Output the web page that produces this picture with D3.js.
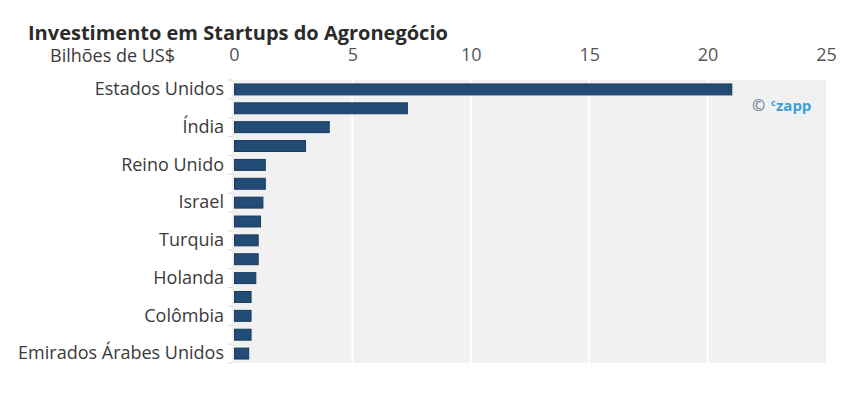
<!DOCTYPE html>
<html>
<head>
<meta charset="utf-8">
<script src="https://cdn.jsdelivr.net/npm/d3@7"></script>
<style>
  body { margin: 0; background: #fff; }
  svg { display: block; font-family: "Open Sans", sans-serif; }
</style>
</head>
<body>
<svg id="chart" width="862" height="394"></svg>
<script>
const categories = ["Estados Unidos", "China", "Índia", "Alemanha", "Reino Unido", "França", "Israel", "Canadá", "Turquia", "Singapura", "Holanda", "Suíça", "Colômbia", "Brasil", "Emirados Árabes Unidos"];
const values = [21.0, 7.3, 4.0, 3.0, 1.3, 1.3, 1.2, 1.1, 1.0, 1.0, 0.9, 0.7, 0.7, 0.7, 0.6];
const xTicks = [0, 5, 10, 15, 20, 25];
const title = "Investimento em Startups do Agronegócio";
const subtitle = "Bilhões de US$";

const svg = d3.select("#chart");
const m = { left: 234, right: 826, top: 80, bottom: 363 };

const x = d3.scaleLinear().domain([0, 25]).range([m.left, m.right]);
const y = d3.scaleBand().domain(categories).range([m.top, m.bottom]).paddingInner(0.42).paddingOuter(0.21);

// plot background
svg.append("rect")
  .attr("x", m.left).attr("y", m.top)
  .attr("width", m.right - m.left).attr("height", m.bottom - m.top)
  .attr("fill", "#f1f1f1");

// gridlines
svg.append("g").selectAll("line")
  .data(xTicks.filter(d => d > 0 && d < 25))
  .join("line")
  .attr("x1", d => x(d)).attr("x2", d => x(d))
  .attr("y1", m.top).attr("y2", m.bottom)
  .attr("stroke", "#ffffff").attr("stroke-width", 2);

// top axis
const xAxis = svg.append("g")
  .attr("transform", `translate(0,${m.top - 19})`)
  .call(d3.axisTop(x).tickValues(xTicks).tickSize(0).tickPadding(0));
xAxis.select(".domain").remove();
xAxis.selectAll("text")
  .attr("font-family", "Open Sans, sans-serif")
  .attr("font-size", 18).attr("fill", "#555");

// left band-edge ticks
const edges = d3.range(categories.length + 1).map(i => m.top + i * (m.bottom - m.top) / categories.length);
svg.append("g").selectAll("line")
  .data(edges)
  .join("line")
  .attr("x1", m.left - 6).attr("x2", m.left - 1)
  .attr("y1", d => d).attr("y2", d => d)
  .attr("stroke", "#d6d6d6").attr("stroke-width", 1);
svg.append("line")
  .attr("x1", m.left - 1).attr("x2", m.left - 1)
  .attr("y1", m.top).attr("y2", m.bottom)
  .attr("stroke", "#e4e4e4");

// left axis labels (every other category)
const yAxis = svg.append("g")
  .attr("transform", `translate(${m.left - 10},0)`)
  .call(d3.axisLeft(y).tickSize(0).tickPadding(0)
    .tickFormat((d, i) => i % 2 === 0 ? d : ""));
yAxis.select(".domain").remove();
yAxis.selectAll("text")
  .attr("font-family", "Open Sans, sans-serif")
  .attr("font-size", 18).attr("fill", "#3a3a3a");

// bars
svg.append("g").selectAll("rect")
  .data(categories)
  .join("rect")
  .attr("x", x(0) + 0.5)
  .attr("y", d => y(d))
  .attr("width", (d, i) => x(values[i]) - x(0))
  .attr("height", y.bandwidth())
  .attr("fill", "#224c76")
  .attr("stroke", "#183a5c").attr("stroke-width", 1);

// title
svg.append("text")
  .attr("x", 28).attr("y", 40)
  .attr("font-size", 20).attr("font-weight", 700).attr("fill", "#2b2b2b")
  .text(title);
svg.append("text")
  .attr("x", 50).attr("y", 62)
  .attr("font-size", 18).attr("fill", "#3a3a3a")
  .text(subtitle);

// logo
const logo = svg.append("g").attr("transform", "translate(752,111)");
logo.append("text")
  .attr("x", 0).attr("y", 0)
  .attr("font-size", 16).attr("font-weight", 700).attr("fill", "#7a8aa0")
  .text("©");
logo.append("text")
  .attr("x", 19).attr("y", -5)
  .attr("font-size", 9).attr("font-weight", 700).attr("fill", "#3ea0d8")
  .text("c");
logo.append("text")
  .attr("x", 24).attr("y", 0)
  .attr("font-size", 15).attr("font-weight", 700).attr("fill", "#3ea0d8")
  .text("zapp");
</script>
</body>
</html>
